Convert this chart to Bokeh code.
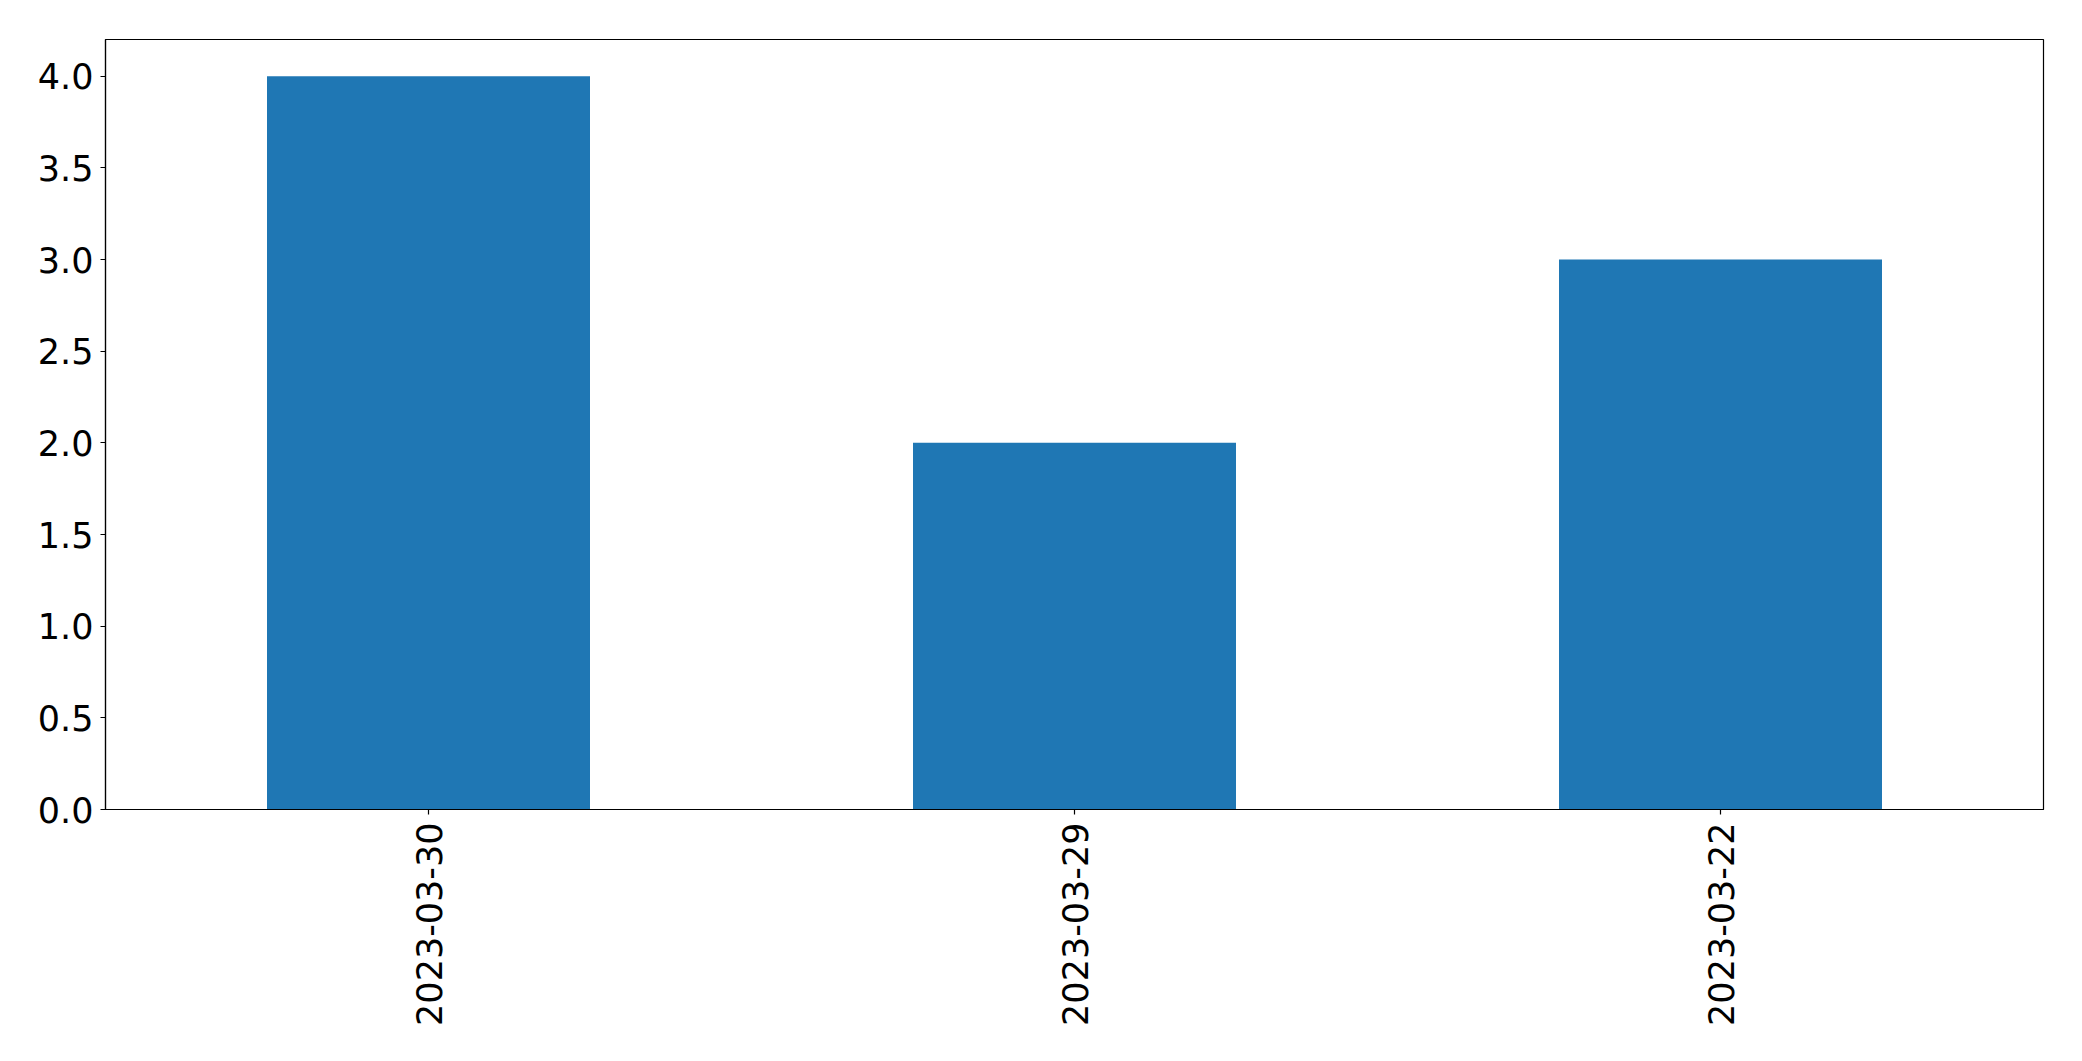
import math
from bokeh.plotting import figure
from bokeh.models import FactorRange, Range1d, FixedTicker, NumeralTickFormatter, ColumnDataSource
from bokeh.embed import file_html
from bokeh.resources import INLINE

# Data
dates = ["2023-03-30", "2023-03-29", "2023-03-22"]
counts = [4, 2, 3]
y_ticks = [0.0, 0.5, 1.0, 1.5, 2.0, 2.5, 3.0, 3.5, 4.0]

source = ColumnDataSource(data=dict(dates=dates, counts=counts))

p = figure(
    x_range=FactorRange(factors=dates),
    y_range=Range1d(0, 4.2),
    width=2068, height=1040,
    output_backend="svg", toolbar_location=None,
    min_border_left=105, min_border_right=25,
    min_border_top=39, min_border_bottom=231,
)

p.vbar(x="dates", top="counts", width=0.5, source=source,
       fill_color="#1f77b4", line_color=None)

p.xgrid.visible = False
p.ygrid.visible = False
p.outline_line_color = "black"
p.outline_line_width = 1.2
p.outline_line_alpha = 1.0

for ax in (p.xaxis[0], p.yaxis[0]):
    ax.axis_line_color = "black"
    ax.axis_line_width = 1.2
    ax.major_tick_line_color = "black"
    ax.major_tick_line_width = 1.2
    ax.major_tick_out = 5
    ax.major_tick_in = 0
    ax.minor_tick_line_color = None
    ax.major_label_text_font = "DejaVu Sans"
    ax.major_label_text_font_size = "35px"
    ax.major_label_text_color = "black"

p.yaxis[0].ticker = FixedTicker(ticks=y_ticks)
p.yaxis[0].formatter = NumeralTickFormatter(format="0.0")
p.yaxis[0].major_label_standoff = 7

p.xaxis[0].major_label_orientation = math.pi / 2
p.xaxis[0].major_label_standoff = 8

open("out.html", "w").write(file_html(p, INLINE))
